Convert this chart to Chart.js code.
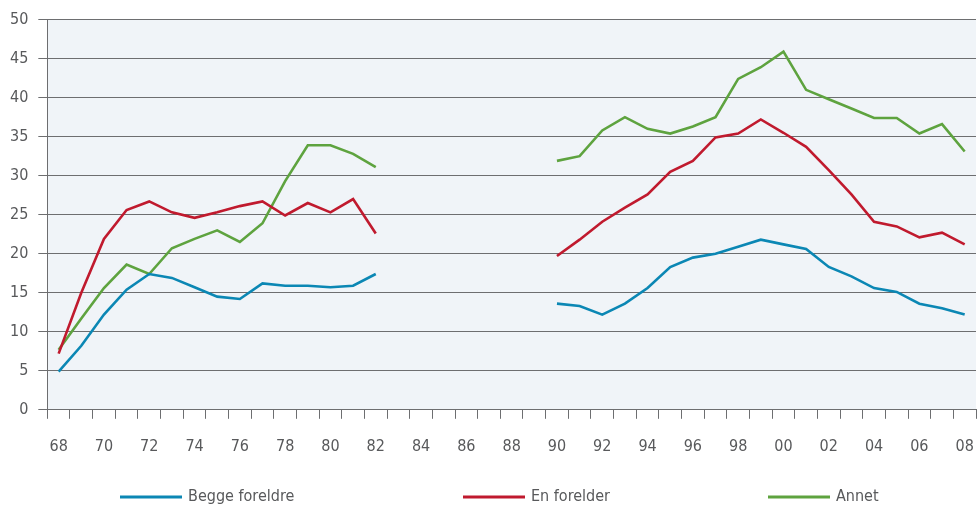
<!DOCTYPE html>
<html>
<head>
<meta charset="utf-8">
<script src="https://cdn.jsdelivr.net/npm/chart.js@4"></script>
<style>
  html, body { margin: 0; padding: 0; background: #fff; }
  #wrap { width: 977px; height: 507px; position: relative; }
</style>
</head>
<body>
<div id="wrap"><canvas id="chart"></canvas></div>
<script>
// År 1968-2008, vist som to siffer
const years = ["68","69","70","71","72","73","74","75","76","77","78","79","80","81","82",
  "83","84","85","86","87","88","89",
  "90","91","92","93","94","95","96","97","98","99","00","01","02","03","04","05","06","07","08"];

// 1983-1989 mangler (null)
const beggeForeldre = [4.9, 8.2, 12.2, 15.4, 17.4, 16.9, 15.7, 14.5, 14.2, 16.2, 15.9, 15.9, 15.7, 15.9, 17.4,
  null, null, null, null, null, null, null,
  13.6, 13.3, 12.2, 13.6, 15.6, 18.3, 19.5, 20.0, 20.9, 21.8, 21.2, 20.6, 18.3, 17.1, 15.6, 15.1, 13.6, 13.0, 12.2];
const enForelder = [7.2, 15.0, 21.9, 25.6, 26.7, 25.3, 24.6, 25.3, 26.1, 26.7, 24.9, 26.5, 25.3, 27.0, 22.6,
  null, null, null, null, null, null, null,
  19.7, 21.8, 24.1, 25.9, 27.6, 30.5, 31.9, 34.9, 35.4, 37.2, 35.5, 33.7, 30.7, 27.6, 24.1, 23.5, 22.1, 22.7, 21.2];
const annet = [7.7, 11.7, 15.6, 18.6, 17.4, 20.7, 21.9, 23.0, 21.5, 23.9, 29.3, 33.9, 33.9, 32.8, 31.1,
  null, null, null, null, null, null, null,
  31.9, 32.5, 35.8, 37.5, 36.0, 35.4, 36.3, 37.5, 42.4, 43.9, 45.9, 41.0, 39.8, 38.6, 37.4, 37.4, 35.4, 36.6, 33.1];

const seriesNames = ["Begge foreldre", "En forelder", "Annet"];
const colors = ["#0b87b4", "#c01a2e", "#5ea33f"];

const FONT = '"Liberation Sans Narrow", "DejaVu Sans Condensed", "Roboto", sans-serif';
const textColor = "#58595b";
const gridColor = "#6d6e70";

// Bakgrunn i plottområdet
const plotBackground = {
  id: "plotBackground",
  beforeDraw(chart) {
    const { ctx, chartArea } = chart;
    ctx.save();
    ctx.fillStyle = "#f0f4f8";
    ctx.fillRect(chartArea.left, chartArea.top, chartArea.right - chartArea.left, chartArea.bottom - chartArea.top);
    ctx.restore();
  },
};

// Egen forklaring nederst, med brede mellomrom
const bottomLegend = {
  id: "bottomLegend",
  afterDraw(chart, args, opts) {
    const { ctx } = chart;
    ctx.save();
    ctx.font = "16px " + FONT;
    ctx.textBaseline = "middle";
    ctx.fillStyle = textColor;
    chart.data.datasets.forEach((ds, i) => {
      const x = opts.starts[i];
      ctx.strokeStyle = ds.borderColor;
      ctx.lineWidth = 3;
      ctx.beginPath();
      ctx.moveTo(x, opts.y);
      ctx.lineTo(x + opts.lineWidth, opts.y);
      ctx.stroke();
      ctx.fillText(ds.label, x + opts.lineWidth + 6, opts.y);
    });
    ctx.restore();
  },
};

const datasets = [beggeForeldre, enForelder, annet].map((data, i) => ({
  label: seriesNames[i],
  data: data,
  borderColor: colors[i],
  backgroundColor: colors[i],
  borderWidth: 2.6,
  pointRadius: 0,
  tension: 0,
  spanGaps: false,
}));

new Chart(document.getElementById("chart"), {
  type: "line",
  data: { labels: years, datasets },
  options: {
    responsive: true,
    maintainAspectRatio: false,
    animation: false,
    layout: { padding: { left: 0, right: 1, top: 10, bottom: 33 } },
    plugins: {
      legend: { display: false },
      tooltip: { enabled: false },
      bottomLegend: { starts: [120, 463, 768], y: 497, lineWidth: 62 },
    },
    scales: {
      x: {
        offset: true,
        grid: { drawOnChartArea: false, offset: true, tickLength: 9, color: gridColor },
        border: { color: gridColor },
        ticks: {
          autoSkip: false,
          maxRotation: 0,
          padding: 18,
          color: textColor,
          font: { family: FONT, size: 16 },
          callback: (v, i) => (i % 2 === 0 ? years[i] : ""),
        },
        // ikke reserver plass til etikettene på sidene
        afterFit: (scale) => {
          scale.paddingLeft = 0;
          scale.paddingRight = 0;
        },
      },
      y: {
        min: 0,
        max: 50,
        grid: { color: gridColor, tickLength: 9 },
        border: { color: gridColor },
        ticks: {
          stepSize: 5,
          padding: 10,
          color: textColor,
          font: { family: FONT, size: 16 },
        },
      },
    },
  },
  plugins: [plotBackground, bottomLegend],
});
</script>
</body>
</html>
